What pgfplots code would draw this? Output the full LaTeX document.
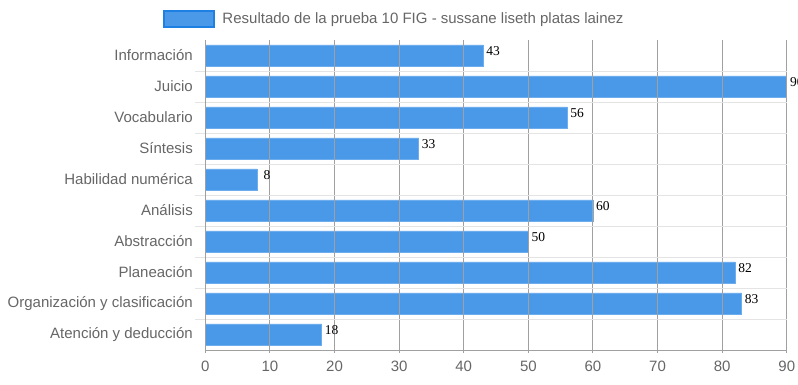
\documentclass[border=0pt]{standalone}
\usepackage{fontspec}
\setmainfont{Liberation Sans}
\newfontfamily\valfont{Liberation Serif}
\usepackage{pgfplots}
\pgfplotsset{compat=1.18}
\definecolor{barblue}{RGB}{74,152,232}
\definecolor{legblue}{RGB}{30,128,226}
\definecolor{gridgray}{RGB}{160,160,160}
\definecolor{lightgrid}{RGB}{228,228,228}
\definecolor{textgray}{RGB}{102,102,102}
\begin{document}
\begin{tikzpicture}
\path[use as bounding box] (-205.3pt,-35pt) rectangle (592.7pt,350pt);
\begin{axis}[
  at={(0,0)}, anchor=south west,
  scale only axis, width=581.5pt, height=310pt,
  xbar, bar width=0.69,
  xmin=0, xmax=90, ymin=-0.5, ymax=9.5, y dir=reverse,
  ytick={0,...,9},
  yticklabels={Información,Juicio,Vocabulario,Síntesis,Habilidad numérica,Análisis,Abstracción,Planeación,Organización y clasificación,Atención y deducción},
  minor ytick={0.5,1.5,...,8.5},
  xtick={0,10,...,90},
  xmajorgrids, yminorgrids,
  major grid style={color=gridgray, line width=1pt},
  minor grid style={color=lightgrid, line width=1pt},
  axis x line*=bottom, axis y line*=left,
  axis line style={gridgray, line width=1pt},
  tick align=outside,
  major tick length=3pt, minor tick length=10pt,
  every major y tick/.style={draw=none},
  every minor y tick/.style={lightgrid, line width=1pt},
  every major x tick/.style={gridgray, line width=1pt},
  axis on top=true,
  tick label style={font=\fontsize{15}{17}\selectfont, text=textgray},
  /pgf/number format/assume math mode=true,
  yticklabel style={xshift=-6pt},
  xticklabel style={yshift=-4pt},
  nodes near coords,
  every node near coord/.append style={font=\valfont\fontsize{13.5}{13.5}\selectfont, text=black, anchor=base, inner sep=0pt, xshift=10pt},
  legend style={at={(axis description cs:0,1)}, anchor=west, xshift=-42pt, yshift=21pt, draw=none, fill=none, inner sep=0pt, column sep=5pt, font=\fontsize{15}{17}\selectfont, text=textgray},
]
\addplot[fill=barblue, draw=barblue!80!white, line width=0.6pt,
  legend image code/.code={\draw[fill=barblue, draw=legblue, line width=2pt] (0pt,-7.5pt) rectangle (50pt,7.5pt);}]
coordinates {(43,0) (90,1) (56,2) (33,3) (8,4) (60,5) (50,6) (82,7) (83,8) (18,9)};
\addlegendentry{Resultado de la prueba 10 FIG - sussane liseth platas lainez}
\end{axis}
\end{tikzpicture}
\end{document}
